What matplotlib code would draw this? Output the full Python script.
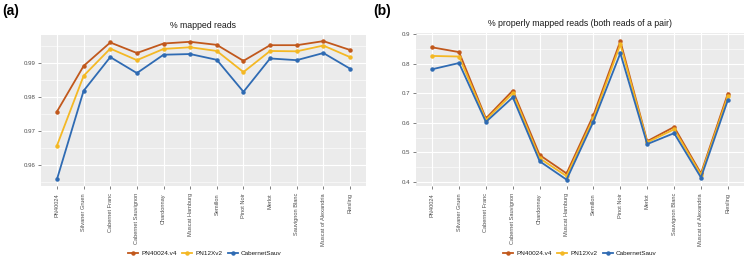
import matplotlib
matplotlib.use("Agg")
import matplotlib.pyplot as plt
import numpy as np

categories = ["PN40024", "Silvaner Gruen", "Cabernet Franc", "Cabernet Sauvignon",
              "Chardonnay", "Muscat Hamburg", "Semillon", "Pinot Noir", "Merlot",
              "Sauvignon Blanc", "Muscat of Alexandria", "Riesling"]
series_names = ["PN40024.v4", "PN12Xv2", "CabernetSauv"]
colors = ["#C1581C", "#F4B824", "#2F6BB3"]

mapped_pn40024 = [0.9757, 0.9891, 0.9960, 0.9929, 0.9957, 0.9962, 0.9953, 0.9906, 0.9952, 0.9952, 0.9964, 0.9938]
mapped_pn12 = [0.9657, 0.9862, 0.9942, 0.9908, 0.9941, 0.9946, 0.9935, 0.9873, 0.9935, 0.9934, 0.9951, 0.9917]
mapped_cab = [0.9558, 0.9818, 0.9917, 0.9870, 0.9924, 0.9926, 0.9909, 0.9815, 0.9913, 0.9908, 0.9929, 0.9883]

proper_pn40024 = [0.855, 0.839, 0.615, 0.709, 0.491, 0.429, 0.626, 0.876, 0.538, 0.586, 0.429, 0.699]
proper_pn12 = [0.826, 0.824, 0.610, 0.700, 0.480, 0.420, 0.615, 0.865, 0.534, 0.578, 0.424, 0.690]
proper_cab = [0.781, 0.802, 0.603, 0.686, 0.470, 0.408, 0.604, 0.835, 0.528, 0.565, 0.415, 0.677]

a_ticks = [0.96, 0.97, 0.98, 0.99]
a_ticklabels = ["0.96", "0.97", "0.98", "0.99"]
b_ticks = [0.4, 0.5, 0.6, 0.7, 0.8, 0.9]
b_ticklabels = ["0.4", "0.5", "0.6", "0.7", "0.8", "0.9"]

W, H = 745, 266
fig = plt.figure(figsize=(W / 100, H / 100), dpi=100)
plt.rcParams['font.family'] = ['Liberation Sans', 'DejaVu Sans']


def rect(l, t, r, b):
    return [l / W, 1 - b / H, (r - l) / W, (b - t) / H]


ax_a = fig.add_axes(rect(41, 35, 366, 186))
ax_b = fig.add_axes(rect(416, 33, 744, 186))


def style(ax, title, ticks, ticklabels, ylim, minor):
    ax.set_facecolor("#EBEBEB")
    for s in ax.spines.values():
        s.set_visible(False)
    x = np.arange(len(categories))
    ax.set_xlim(-0.6, len(categories) - 1 + 0.6)
    ax.set_ylim(*ylim)
    ax.set_xticks(x)
    ax.set_xticklabels(categories, rotation=90, fontsize=4.1, color="#4D4D4D", va="top", ha="center")
    ax.set_yticks(ticks)
    ax.set_yticklabels(ticklabels, fontsize=4.4, color="#4D4D4D")
    ax.set_yticks(minor, minor=True)
    ax.tick_params(axis="both", which="major", length=2, width=0.5, color="#4D4D4D", pad=2)
    ax.tick_params(axis="x", which="major", pad=3)
    ax.tick_params(axis="y", which="minor", length=0)
    ax.grid(True, which="major", color="white", linewidth=0.8)
    ax.grid(True, which="minor", axis="y", color="white", linewidth=0.4)
    ax.set_axisbelow(True)
    ax.set_title(title, fontsize=6.3, color="#1A1A1A", pad=5)


def draw(ax, ys):
    x = np.arange(len(categories))
    handles = []
    for name, y, c in zip(series_names, ys, colors):
        h, = ax.plot(x, y, color=c, linewidth=1.3, marker="o", markersize=2.2, label=name)
        handles.append(h)
    return handles


style(ax_a, "% mapped reads", a_ticks, a_ticklabels, (0.9538, 0.9982),
      [0.955, 0.965, 0.975, 0.985, 0.995])
ha = draw(ax_a, [mapped_pn40024, mapped_pn12, mapped_cab])

style(ax_b, "% properly mapped reads (both reads of a pair)", b_ticks, b_ticklabels, (0.3865, 0.9035),
      [0.45, 0.55, 0.65, 0.75, 0.85])
hb = draw(ax_b, [proper_pn40024, proper_pn12, proper_cab])

for handles, cx in [(ha, 205 / W), (hb, 580 / W)]:
    leg = fig.legend(handles=handles, labels=series_names, loc="center", bbox_to_anchor=(cx, 1 - 253 / H),
                     ncol=3, frameon=False, fontsize=4.6, handlelength=1.6, handletextpad=0.5,
                     columnspacing=0.8, borderaxespad=0)
    for t in leg.get_texts():
        t.set_color("#1A1A1A")

fig.text(2 / W, 1 - 11 / H, "(a)", fontsize=10, fontweight="bold", va="center", ha="left")
fig.text(373 / W, 1 - 11 / H, "(b)", fontsize=10, fontweight="bold", va="center", ha="left")

fig.savefig("out.png", dpi=100, facecolor="white")
